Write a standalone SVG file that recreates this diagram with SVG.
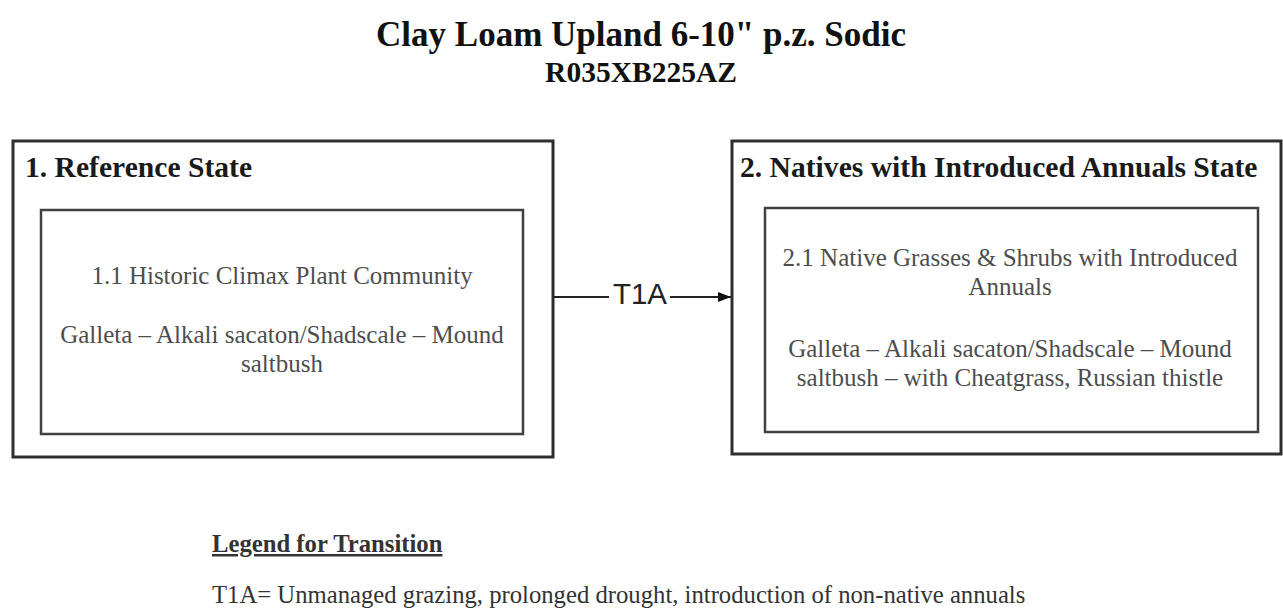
<svg xmlns="http://www.w3.org/2000/svg" width="1283" height="614" viewBox="0 0 1283 614">
<defs>
<style>
.bg{fill:#ffffff}
.outer{fill:none;stroke:#2e2e2e;stroke-width:3}
.inner{fill:none;stroke:#404040;stroke-width:2.5}
.title{font-family:"Liberation Serif","Times New Roman",serif;font-weight:bold;fill:#111;text-anchor:middle}
.stitle{font-family:"Liberation Serif","Times New Roman",serif;font-weight:bold;font-size:29.6px;fill:#1a1a1a}
.body{font-family:"Liberation Serif","Times New Roman",serif;font-size:25px;fill:#4d4d4d;text-anchor:middle}
.conn{stroke:#222;stroke-width:2;fill:none}
.lbl{font-family:"Liberation Sans",Arial,sans-serif;font-size:29.5px;fill:#222;text-anchor:middle}
.legend{font-family:"Liberation Serif","Times New Roman",serif;font-size:24.7px;fill:#333}
</style>
<marker id="arr" markerWidth="13" markerHeight="10" refX="13" refY="5" orient="auto" markerUnits="userSpaceOnUse">
<path d="M0,0 L13,5 L0,10 Z" fill="#111"/>
</marker>
</defs>
<rect class="bg" x="0" y="0" width="1283" height="614"/>
<g id="header">
<text class="title" x="641" y="46" font-size="35">Clay Loam Upland 6-10" p.z. Sodic</text>
<text class="title" x="641" y="82" font-size="29.5">R035XB225AZ</text>
</g>
<g id="state1">
<rect class="outer" x="13" y="141" width="540" height="316"/>
<text class="stitle" x="25" y="177">1. Reference State</text>
<g id="community1_1">
<rect class="inner" x="41" y="210" width="482" height="224"/>
<text class="body" x="282" y="284">1.1 Historic Climax Plant Community</text>
<text class="body" x="282" y="343">Galleta – Alkali sacaton/Shadscale – Mound</text>
<text class="body" x="282" y="372">saltbush</text>
</g>
</g>
<g id="state2">
<rect class="outer" x="732" y="141" width="549" height="313"/>
<text class="stitle" x="740" y="177">2. Natives with Introduced Annuals State</text>
<g id="community2_1">
<rect class="inner" x="765" y="208" width="493" height="224"/>
<text class="body" x="1010" y="266">2.1 Native Grasses &amp; Shrubs with Introduced</text>
<text class="body" x="1010" y="295">Annuals</text>
<text class="body" x="1010" y="357">Galleta – Alkali sacaton/Shadscale – Mound</text>
<text class="body" x="1010" y="386">saltbush – with Cheatgrass, Russian thistle</text>
</g>
</g>
<g id="connectors">
<line class="conn" x1="554" y1="297" x2="609" y2="297"/>
<line class="conn" x1="670" y1="297" x2="731" y2="297" marker-end="url(#arr)"/>
<text class="lbl" x="640" y="304">T1A</text>
</g>
<g id="legend">
<text class="legend" x="212" y="552" font-weight="bold" text-decoration="underline">Legend for Transition</text>
<text class="legend" x="212" y="603">T1A= Unmanaged grazing, prolonged drought, introduction of non-native annuals</text>
</g>
</svg>
